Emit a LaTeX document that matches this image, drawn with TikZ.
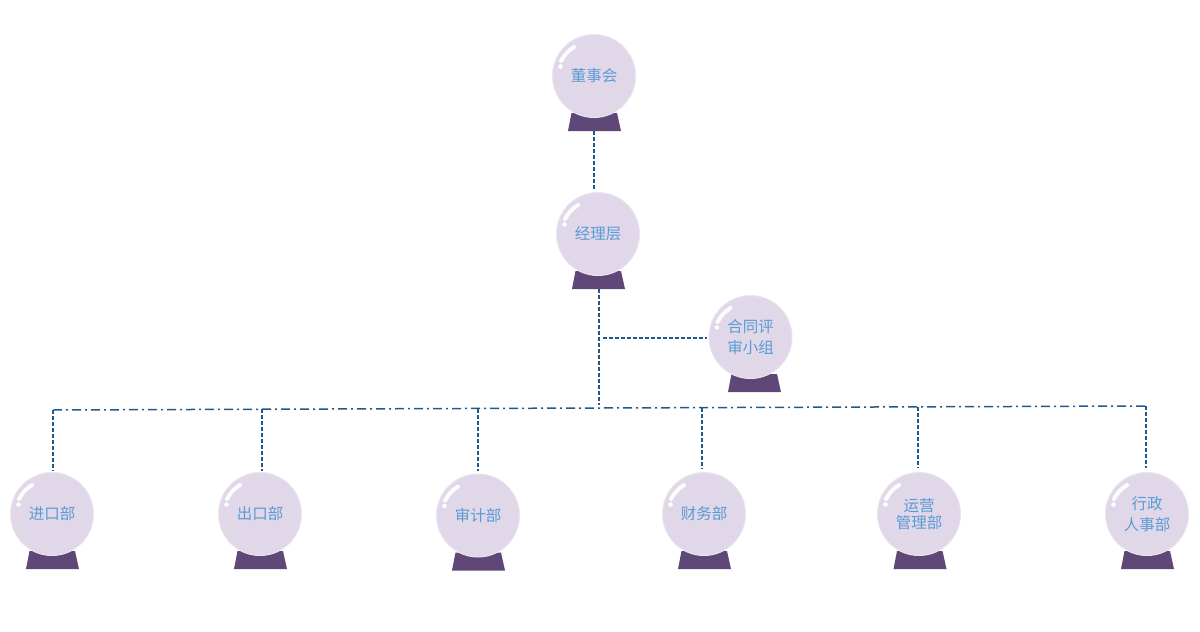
\documentclass[tikz,border=0pt]{standalone}
\usepackage{fontspec}
\usepackage{xcolor}
\usetikzlibrary{calc}
\newfontfamily\cjk{Noto Sans CJK SC}
\definecolor{ballfill}{HTML}{E0D7E8}
\definecolor{balledge}{HTML}{E9E4EE}
\definecolor{basefill}{HTML}{5F4878}
\definecolor{labelblue}{HTML}{5B9BD5}
\definecolor{linkblue}{HTML}{1F5A8C}
\tikzset{
    ball/.style={circle,fill=ballfill,draw=balledge,line width=1pt,minimum size=83pt,inner sep=0pt,outer sep=0.5pt,align=center,text=labelblue,font=\cjk\fontsize{15.5}{21.5}\selectfont},
    ballshine/.style={white,line width=4pt,line cap=round,opacity=0.95},
    linkdash/.style={linkblue,line width=1.5pt,dash pattern=on 4pt off 2pt},
    linkbus/.style={linkblue,line width=1.5pt,dash pattern=on 9pt off 4pt on 2pt off 4pt}
}
\newcommand{\CrystalBall}[5][0]{%
    \coordinate (#2base) at (#3+#1,#4+55);
    \fill[basefill] ($(#2base)+(-22.5,-18)$) -- ($(#2base)+(23,-18)$) -- ($(#2base)+(27,0)$) -- ($(#2base)+(-26,0)$) -- cycle;
    \node[ball] (#2) at (#3,#4) {#5};
    \draw[ballshine] ($(#2)+(-33,-15)$) to[bend left=14] ($(#2)+(-20,-29)$);
    \fill[white] ($(#2)+(-33.5,-9.5)$) circle (2.3pt);
}

\begin{document}
\begin{tikzpicture}[x=1pt,y=-1pt]
        \useasboundingbox (0,0) rectangle (1200,632);
        \CrystalBall{board}{594}{76}{董事会}
        \CrystalBall{manager}{598}{234}{经理层}
        \CrystalBall[3.5]{review}{750.5}{337}{合同评\\审小组}
        \CrystalBall{importdept}{52}{514}{进口部}
        \CrystalBall{exportdept}{260}{514}{出口部}
        \CrystalBall{audit}{478}{515.5}{审计部}
        \CrystalBall{finance}{704}{514}{财务部}
        \CrystalBall[0.5]{operate}{919}{514}{运营\\[-5pt]管理部}
        \CrystalBall{admin}{1147}{514}{行政\\人事部}
        % bus line and where the branches leave it
        \coordinate (busleft) at (53,410);
        \coordinate (busright) at (1146,406);
        \coordinate (tapexport) at (262,409.3);
        \coordinate (tapaudit) at (478,408.5);
        \coordinate (tapmain) at (599,405);
        \coordinate (tapfinance) at (702,407.7);
        \coordinate (tapoperate) at (918,406.8);
        \coordinate (tapreview) at (603,338);
        \draw[linkdash] (boardbase) -- ($(board |- manager.north)+(0,-2)$);
        \draw[linkdash] (tapmain |- managerbase) -- (tapmain);
        \draw[linkdash] (tapreview) -- ($(tapreview -| review.west)+(-2,0)$);
        \draw[linkbus] (busleft) -- (busright);
        \draw[linkdash] (busleft) -- ($(busleft |- importdept.north)+(0,-1)$);
        \draw[linkdash] (tapexport) -- ($(tapexport |- exportdept.north)+(0,-1.5)$);
        \draw[linkdash] (tapaudit) -- ($(tapaudit |- audit.north)+(0,-3)$);
        \draw[linkdash] (tapfinance) -- ($(tapfinance |- finance.north)+(0,-3)$);
        \draw[linkdash] (tapoperate) -- ($(tapoperate |- operate.north)+(0,-4)$);
        \draw[linkdash] (busright) -- ($(busright |- admin.north)+(0,-4)$);
\end{tikzpicture}
\end{document}
